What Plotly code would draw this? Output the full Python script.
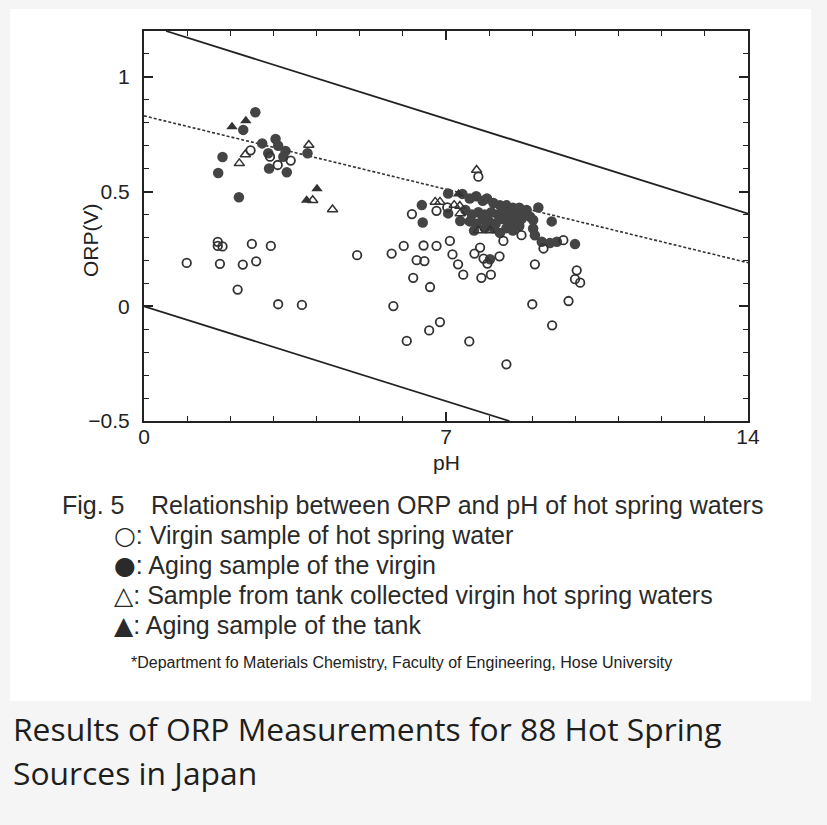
import plotly.graph_objects as go

# ---------------- data (pH, ORP [V]) ----------------
virgin_ph = [2.47, 2.92, 3.10, 3.40, 0.99, 1.71, 1.71, 1.82, 1.76, 2.50, 2.94, 2.29, 2.60, 2.17, 3.11, 3.66,
             4.94, 5.74, 6.02, 6.48, 6.78, 7.09, 6.32, 6.50, 7.15, 7.28, 7.40, 7.66, 7.79, 7.87, 7.96, 8.24,
             7.82, 8.04, 6.24, 6.63, 5.78, 6.86, 6.61, 6.09, 7.54, 8.40, 8.33, 9.26, 9.06, 9.00, 9.46, 9.84,
             10.03, 9.99, 10.11, 6.21, 6.78, 7.03, 7.75, 8.75, 9.72]
virgin_orp = [0.680, 0.652, 0.616, 0.635, 0.189, 0.281, 0.263, 0.261, 0.185, 0.272, 0.263, 0.182, 0.196, 0.073, 0.009, 0.006,
              0.223, 0.230, 0.263, 0.265, 0.263, 0.285, 0.201, 0.197, 0.226, 0.183, 0.138, 0.230, 0.256, 0.208, 0.186, 0.218,
              0.124, 0.138, 0.124, 0.084, 0.001, -0.069, -0.105, -0.151, -0.153, -0.253, 0.285, 0.252, 0.183, 0.009, -0.083, 0.023,
              0.157, 0.118, 0.103, 0.402, 0.416, 0.431, 0.565, 0.310, 0.288]

aging_ph = [2.58, 2.30, 1.82, 1.72, 2.20, 2.74, 3.05, 3.11, 2.88, 3.28, 3.23, 2.90, 3.31, 3.79,
            6.44, 6.46, 7.05, 7.05, 7.33,
            7.38, 7.55, 7.70, 7.85, 7.95, 8.10, 8.25, 8.40, 8.55, 8.70, 8.87,
            7.45, 7.60, 7.75, 7.90, 8.05, 8.20, 8.35, 8.50, 8.65, 8.80, 8.95,
            7.55, 7.70, 7.85, 8.00, 8.15, 8.30, 8.45, 8.60, 8.75, 9.02,
            7.65, 7.90, 8.10, 8.40, 8.70, 9.02, 8.25, 8.55,
            9.14, 9.45, 9.06, 8.02, 9.22, 9.41, 9.57, 9.99]
aging_orp = [0.846, 0.769, 0.651, 0.581, 0.475, 0.710, 0.729, 0.700, 0.667, 0.677, 0.652, 0.601, 0.584, 0.667,
             0.441, 0.365, 0.492, 0.405, 0.372,
             0.49, 0.47, 0.48, 0.46, 0.47, 0.45, 0.44, 0.44, 0.43, 0.43, 0.42,
             0.42, 0.40, 0.41, 0.40, 0.41, 0.40, 0.41, 0.40, 0.39, 0.40, 0.39,
             0.37, 0.36, 0.38, 0.37, 0.36, 0.38, 0.37, 0.36, 0.38, 0.376,
             0.33, 0.34, 0.34, 0.34, 0.35, 0.339, 0.32, 0.33,
             0.431, 0.370, 0.310, 0.205, 0.281, 0.276, 0.281, 0.271]

tank_ph = [2.21, 2.35, 3.82, 3.91, 4.37, 7.71, 6.75, 6.86, 7.19, 7.32, 7.33, 7.75, 8.02]
tank_orp = [0.623, 0.662, 0.703, 0.462, 0.422, 0.594, 0.455, 0.455, 0.441, 0.437, 0.405, 0.330, 0.330]

tank_aging_ph = [2.04, 2.36, 4.01, 3.77, 7.29]
tank_aging_orp = [0.783, 0.809, 0.512, 0.462, 0.490]

# reference lines (end points)
upper_line_ph = [0.51, 14.0]
upper_line_orp = [1.20, 0.404]
lower_line_ph = [0.0, 8.47]
lower_line_orp = [0.0, -0.50]
dashed_line_ph = [0.0, 14.0]
dashed_line_orp = [0.83, 0.19]

x_tickvals = [0, 7, 14]
y_tickvals = [-0.5, 0, 0.5, 1]
y_ticktext = ["\u22120.5", "0", "0.5", "1"]

# ---------------- geometry helpers ----------------
W, H = 827, 825
L, R, T, B = 144, 748, 31, 421


def fx(px):
    return (px - L) / (R - L)


def fy(py):
    return (B - py) / (B - T)


fig = go.Figure()

fig.add_trace(go.Scatter(x=upper_line_ph, y=upper_line_orp, mode="lines",
                         line=dict(color="#222", width=1.8), showlegend=False, hoverinfo="skip"))
fig.add_trace(go.Scatter(x=lower_line_ph, y=lower_line_orp, mode="lines",
                         line=dict(color="#222", width=1.8), showlegend=False, hoverinfo="skip"))
fig.add_trace(go.Scatter(x=dashed_line_ph, y=dashed_line_orp, mode="lines",
                         line=dict(color="#333", width=1.6, dash="3px,2px"), showlegend=False, hoverinfo="skip"))

fig.add_trace(go.Scatter(x=aging_ph, y=aging_orp, mode="markers", name="Aging sample of the virgin",
                         marker=dict(symbol="circle", size=10.5, color="#444", line=dict(width=0)),
                         showlegend=False))
fig.add_trace(go.Scatter(x=tank_aging_ph, y=tank_aging_orp, mode="markers", name="Aging sample of the tank",
                         marker=dict(symbol="triangle-up", size=10, color="#333", line=dict(width=0)),
                         showlegend=False))
fig.add_trace(go.Scatter(x=virgin_ph, y=virgin_orp, mode="markers", name="Virgin sample",
                         marker=dict(symbol="circle-open", size=8.5, color="#333", line=dict(width=1.8)),
                         showlegend=False))
fig.add_trace(go.Scatter(x=tank_ph, y=tank_orp, mode="markers", name="Sample from tank",
                         marker=dict(symbol="triangle-up-open", size=9, color="#333", line=dict(width=1.5)),
                         showlegend=False))

tickfont = dict(family="Liberation Sans, Arial, sans-serif", size=21, color="#222")

fig.update_xaxes(range=[0, 14], tickvals=x_tickvals, ticks="inside", ticklen=9, tickwidth=1.5,
                 tickcolor="#222", showline=True, linecolor="#222", linewidth=2, mirror="allticks",
                 showgrid=False, zeroline=False, tickfont=tickfont, ticklabelstandoff=-4,
                 minor=dict(dtick=1, ticks="inside", ticklen=5, tickwidth=1.2, tickcolor="#222", showgrid=False))
fig.update_yaxes(range=[-0.5, 1.2], tickvals=y_tickvals, ticktext=y_ticktext, ticks="inside", ticklen=9,
                 tickwidth=1.5, tickcolor="#222", showline=True, linecolor="#222", linewidth=2,
                 mirror="allticks", showgrid=False, zeroline=False, tickfont=tickfont, ticklabelstandoff=8,
                 minor=dict(dtick=0.1, ticks="inside", ticklen=5, tickwidth=1.2, tickcolor="#222", showgrid=False))

cap_font = dict(family="Liberation Sans, Arial, sans-serif", size=25, color="#2a2a2a")
SYM = "<span style=\"font-family:'DejaVu Sans';font-size:25px\">%s</span>"
annotations = [
    dict(text="pH", x=fx(446), y=fy(462), font=dict(family="Liberation Sans, Arial, sans-serif", size=21, color="#222")),
    dict(text="ORP(V)", x=fx(90), y=fy(240), textangle=-90,
         font=dict(family="Liberation Sans, Arial, sans-serif", size=21, color="#222")),
    dict(text="Fig. 5", x=fx(60), y=fy(505), xanchor="left", font=cap_font),
    dict(text="Relationship between ORP and pH of hot spring waters", x=fx(149), y=fy(505), xanchor="left", font=cap_font),
    dict(text=(SYM % "\u25cb") + ": Virgin sample of hot spring water", x=fx(112), y=fy(535), xanchor="left", font=cap_font),
    dict(text=(SYM % "\u25cf") + ": Aging sample of the virgin", x=fx(112), y=fy(565), xanchor="left", font=cap_font),
    dict(text=(SYM % "\u25b3") + ": Sample from tank collected virgin hot spring waters", x=fx(112), y=fy(595), xanchor="left", font=cap_font),
    dict(text=(SYM % "\u25b2") + ": Aging sample of the tank", x=fx(112), y=fy(625), xanchor="left", font=cap_font),
    dict(text="*Department fo Materials Chemistry, Faculty of Engineering, Hose University", x=fx(129), y=fy(662),
         xanchor="left", font=dict(family="Liberation Sans, Arial, sans-serif", size=16, color="#222")),
    dict(text="Results of ORP Measurements for 88 Hot Spring", x=fx(11), y=fy(728), xanchor="left",
         font=dict(family="Open Sans, sans-serif", size=31.8, color="#1e1e1e")),
    dict(text="Sources in Japan", x=fx(11), y=fy(772), xanchor="left",
         font=dict(family="Open Sans, sans-serif", size=31.8, color="#1e1e1e")),
]
for a in annotations:
    a.setdefault("xanchor", "center")
    a.update(xref="paper", yref="paper", yanchor="middle", showarrow=False)

fig.update_layout(
    width=W, height=H,
    margin=dict(l=L, r=W - R, t=T, b=H - B, autoexpand=False),
    paper_bgcolor="#f5f5f5", plot_bgcolor="white",
    annotations=annotations,
    shapes=[dict(type="rect", xref="paper", yref="paper", x0=fx(10), x1=fx(811), y0=fy(701), y1=fy(9),
                 fillcolor="white", line=dict(width=0), layer="below")],
    showlegend=False,
)

fig.write_html("out.html", config={"displayModeBar": False},
               post_script="document.body.style.margin='0';document.body.style.background='#f5f5f5';"
                           "document.body.style.overflow='hidden';")
